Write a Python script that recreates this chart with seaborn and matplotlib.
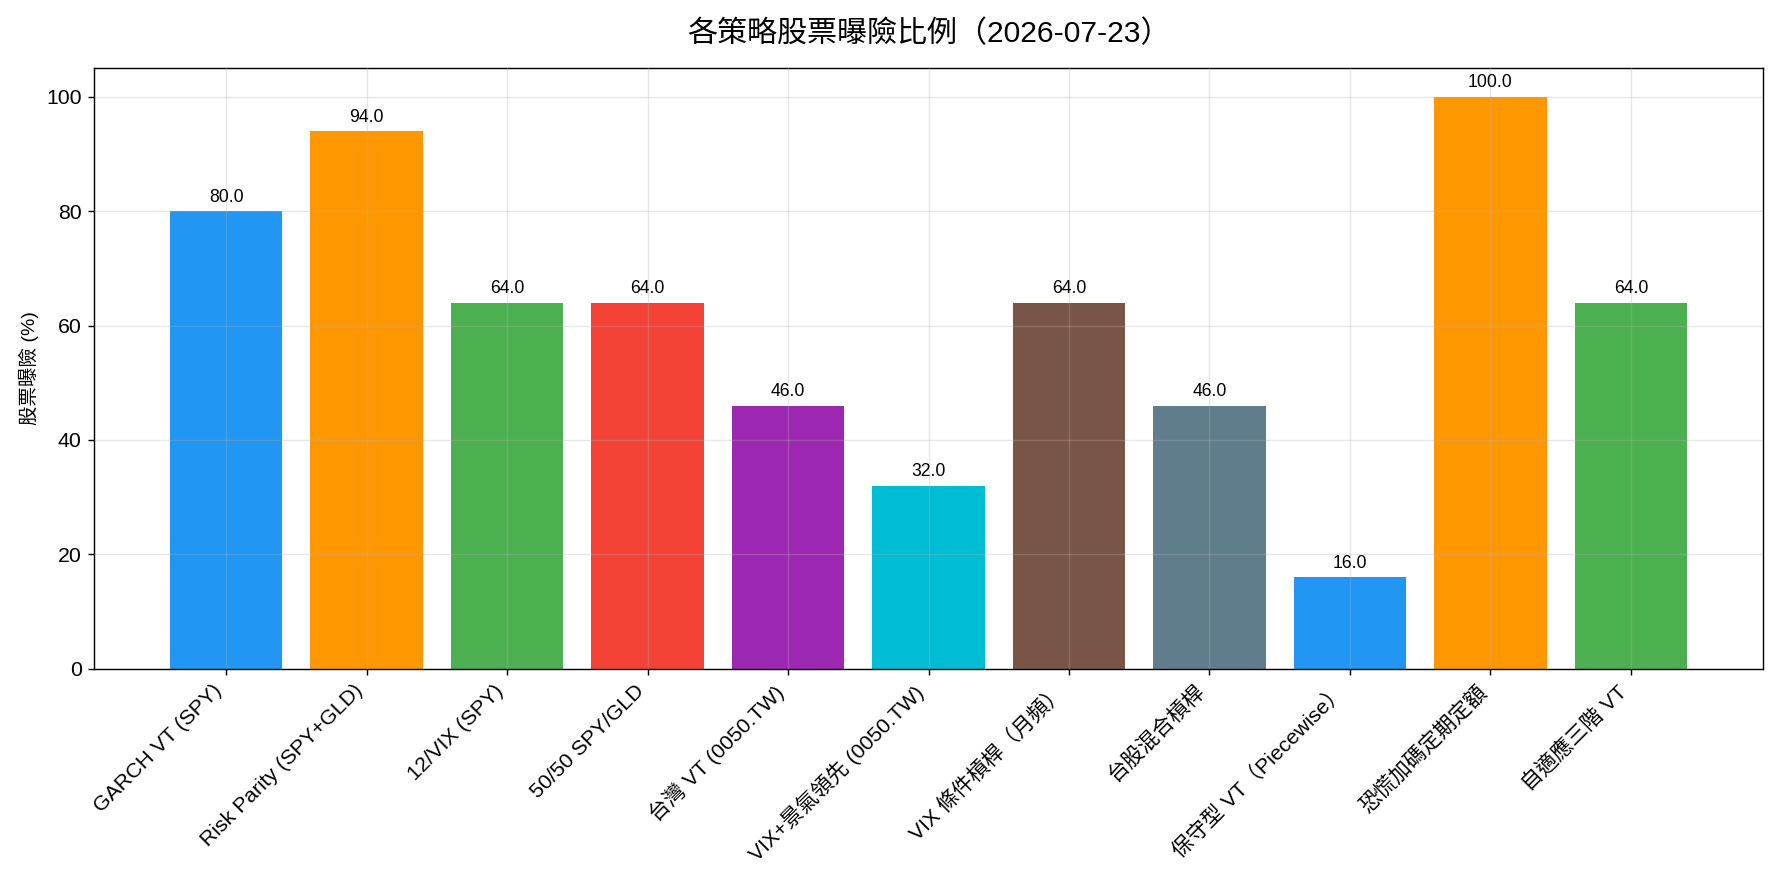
import matplotlib
matplotlib.use("Agg")
import matplotlib.pyplot as plt
import seaborn as sns
import pandas as pd

strategies = [
    "GARCH VT (SPY)",
    "Risk Parity (SPY+GLD)",
    "12/VIX (SPY)",
    "50/50 SPY/GLD",
    "台灣 VT (0050.TW)",
    "VIX+景氣領先 (0050.TW)",
    "VIX 條件槓桿（月頻）",
    "台股混合槓桿",
    "保守型 VT（Piecewise）",
    "恐慌加碼定期定額",
    "自適應三階 VT",
]
exposure = [80.0, 94.0, 64.0, 64.0, 46.0, 32.0, 64.0, 46.0, 16.0, 100.0, 64.0]
colors = [
    "#2196F3", "#FF9800", "#4CAF50", "#F44336", "#9C27B0", "#00BCD4",
    "#795548", "#607D8B", "#2196F3", "#FF9800", "#4CAF50",
]
title = "各策略股票曝險比例（2026-07-23）"
ylabel = "股票曝險 (%)"

plt.rcParams["font.family"] = ["Liberation Sans", "Noto Sans CJK TC", "DejaVu Sans"]
plt.rcParams["axes.unicode_minus"] = False

df = pd.DataFrame({"strategy": strategies, "exposure": exposure})

DPI = 127.29
fig, ax = plt.subplots(figsize=(1782 / DPI, 884 / DPI), dpi=DPI)
sns.barplot(data=df, x="strategy", y="exposure", hue="strategy",
            palette=colors, legend=False, saturation=1, width=0.8, ax=ax)

for cont in ax.containers:
    ax.bar_label(cont, fmt="%.1f", padding=3, fontsize=10)

n = len(strategies)
ax.set_xlim(-0.94, n - 1 + 0.94)
ax.set_ylim(0, 105)
ax.grid(True, alpha=0.3)
ax.set_axisbelow(False)
for gl in ax.get_xgridlines() + ax.get_ygridlines():
    gl.set_zorder(1.5)
ax.set_xlabel("")
ax.set_ylabel(ylabel, fontsize=11)
ax.set_title(title, fontsize=17, pad=15)
ax.tick_params(labelsize=12)
plt.setp(ax.get_xticklabels(), rotation=45, ha="right", rotation_mode="default")

fig.tight_layout()
fig.savefig("out.png", dpi=DPI)
